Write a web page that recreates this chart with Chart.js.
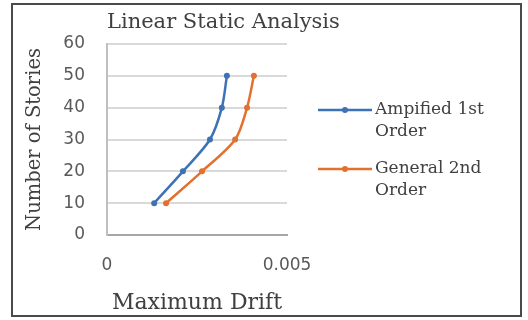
<!DOCTYPE html>
<html>
<head>
<meta charset="utf-8">
<script src="https://cdn.jsdelivr.net/npm/chart.js@4.4.0/dist/chart.umd.min.js"></script>
<style>
  html, body { margin:0; padding:0; background:#fff; }
  #wrap { width:528px; height:320px; position:relative; }
</style>
</head>
<body>
<div id="wrap"><canvas id="chart" width="528" height="320"></canvas></div>
<script>
// values
const stories = [10, 20, 30, 40, 50];
const amplifiedDrift = [0.00131, 0.00211, 0.00286, 0.00319, 0.00333];
const generalDrift = [0.00164, 0.00264, 0.00356, 0.00389, 0.00408];
const seriesNames = ['Ampified 1st Order', 'General 2nd Order'];
const legendLines = [['Ampified 1st', 'Order'], ['General 2nd', 'Order']];
const seriesColors = ['#3d72b4', '#e2702f'];
const yTicks = [0, 10, 20, 30, 40, 50, 60];
const xTicks = [0, 0.005];

const serif = '"DejaVu Serif", "Liberation Serif", serif';
const sans = '"DejaVu Sans", "Liberation Sans", sans-serif';

function toPoints(xs){
  return xs.map((x, i)=>({ x, y: stories[i] }));
}

// frame, title and the two-line legend are drawn on the canvas
const decorPlugin = {
  id: 'decor',
  afterDraw(chart){
    const ctx = chart.ctx;
    ctx.save();
    ctx.strokeStyle = '#4a4a4a';
    ctx.lineWidth = 2;
    ctx.strokeRect(12, 4, 509, 312);

    ctx.fillStyle = '#404040';
    ctx.font = '21px ' + serif;
    ctx.textAlign = 'left';
    ctx.textBaseline = 'middle';
    ctx.fillText('Linear Static Analysis', 107, 23);

    const rows = [110, 169];
    chart.data.datasets.forEach((ds, i)=>{
      const y = rows[i];
      ctx.strokeStyle = ds.borderColor;
      ctx.lineWidth = 2.5;
      ctx.beginPath();
      ctx.moveTo(318, y);
      ctx.lineTo(372, y);
      ctx.stroke();
      ctx.fillStyle = ds.borderColor;
      ctx.beginPath();
      ctx.arc(345, y, 3, 0, Math.PI*2);
      ctx.fill();
      ctx.fillStyle = '#404040';
      ctx.font = '17px ' + serif;
      legendLines[i].forEach((t, k)=>ctx.fillText(t, 375, y + k*22));
    });
    ctx.restore();
  }
};

const ctx = document.getElementById('chart').getContext('2d');
new Chart(ctx, {
  type: 'scatter',
  data: {
    datasets: [
      { label: seriesNames[0], data: toPoints(amplifiedDrift) },
      { label: seriesNames[1], data: toPoints(generalDrift) }
    ].map((d, i)=>Object.assign(d, {
      showLine: true,
      tension: 0.3,
      borderColor: seriesColors[i],
      backgroundColor: seriesColors[i],
      borderWidth: 2.5,
      pointRadius: 3,
      pointBorderWidth: 0
    }))
  },
  options: {
    responsive: false,
    animation: false,
    layout: { padding: { left: 14, right: 241, top: 44, bottom: 4 } },
    plugins: {
      legend: { display:false },
      title: { display:false },
      tooltip: { enabled:false }
    },
    scales: {
      x: {
        type: 'linear',
        min: 0, max: 0.005,
        afterBuildTicks: s=>{ s.ticks = xTicks.map(v=>({ value:v })); },
        afterFit: s=>{ s.height = 81; },
        grid: { display:false, drawTicks:false },
        border: { display:true, color:'#a6a6a6', width:2 },
        ticks: { color:'#595959', font:{ family:sans, size:17 }, padding:20, maxRotation:0,
                 callback: v=>String(v) },
        title: { display:true, text:'Maximum Drift', color:'#404040',
                 font:{ family:serif, size:22 }, padding:{ top:0, bottom:0 } }
      },
      y: {
        min: 0, max: 60,
        afterBuildTicks: s=>{ s.ticks = yTicks.map(v=>({ value:v })); },
        afterFit: s=>{ s.width = 93; },
        grid: { color:'#d9d9d9', lineWidth:2, drawTicks:false },
        border: { display:true, color:'#bfbfbf', width:2 },
        ticks: { color:'#595959', font:{ family:sans, size:17 }, padding:22 },
        title: { display:true, text:'Number of Stories', color:'#404040',
                 font:{ family:serif, size:19.5 }, padding:{ top:9, bottom:9 } }
      }
    }
  },
  plugins: [decorPlugin]
});
</script>
</body>
</html>
